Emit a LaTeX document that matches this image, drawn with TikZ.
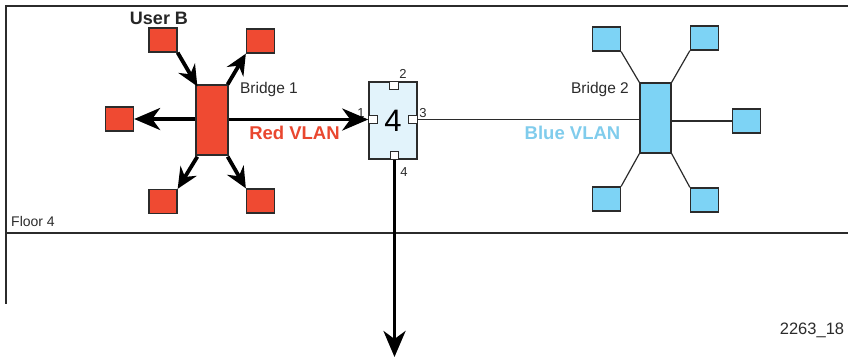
\documentclass[tikz,border=0pt]{standalone}
\usepackage{fontspec}
\setmainfont{Liberation Sans}
\usetikzlibrary{arrows.meta}
\definecolor{redfill}{HTML}{EF4A32}
\definecolor{bluefill}{HTML}{7DD3F5}
\definecolor{swfill}{HTML}{E2F3FB}
\definecolor{redtxt}{HTML}{E9472F}
\definecolor{bluetxt}{HTML}{80CCEC}
\definecolor{edge}{HTML}{2B2B2B}
\tikzset{
  redsq/.style={draw=edge,line width=1.3pt,fill=redfill,minimum width=28pt,minimum height=24pt,inner sep=0pt},
  bluesq/.style={draw=edge,line width=1.3pt,fill=bluefill,minimum width=28pt,minimum height=24pt,inner sep=0pt},
  redbridge/.style={draw=edge,line width=1.3pt,fill=redfill,minimum width=32pt,minimum height=70pt,inner sep=0pt},
  bluebridge/.style={draw=edge,line width=1.3pt,fill=bluefill,minimum width=31pt,minimum height=70pt,inner sep=0pt},
  switchbox/.style={draw=edge,line width=1.3pt,fill=swfill,minimum width=48pt,minimum height=77pt,inner sep=0pt,font=\fontsize{31}{31}\selectfont},
  port/.style={draw=edge,line width=1pt,fill=white,minimum width=8.5pt,minimum height=8pt,inner sep=0pt},
  bigarrow/.style={line width=3.8pt,-{Stealth[length=26pt,width=22pt,inset=8pt]}},
  diagarrow/.style={line width=3.8pt,-{Stealth[length=21pt,width=19pt,inset=7pt]}},
  thinline/.style={draw=edge,line width=1.2pt},
  lbl/.style={inner sep=0pt,font=\fontsize{15.5}{15.5}\selectfont,text=edge},
  boldlbl/.style={inner sep=0pt,font=\fontsize{18.5}{18.5}\selectfont\bfseries},
  portlbl/.style={inner sep=0pt,font=\fontsize{13}{13}\selectfont,text=edge},
  frame/.style={draw=edge,line width=1.5pt}
}
\begin{document}
\begin{tikzpicture}[x=1pt,y=-1pt]
\useasboundingbox (0,0) rectangle (848,359);
% frame
\draw[frame] (848,6) -- (6,6) -- (6,304);
\draw[frame,line width=2pt] (6,233) -- (848,233);
\node[inner sep=0pt,font=\fontsize{14}{14}\selectfont,text=edge,anchor=base west] (floor) at (11,226) {Floor 4};
\node[inner sep=0pt,font=\fontsize{16.5}{16.5}\selectfont,text=edge] (fig) at (812,330) {2263\_18};
% bridge 1 and red stations
\node[redbridge] (b1) at (212,120) {};
\node[redsq] (ub) at (163,40) {};
\node[redsq] (rtr) at (260.5,41) {};
\node[redsq] (rl) at (119.5,119) {};
\node[redsq] (rbl) at (163,201.5) {};
\node[redsq] (rbr) at (260.5,201) {};
\node[boldlbl,font=\fontsize{18}{18}\selectfont\bfseries,text=black!85] (userb) at (159,18) {User B};
\node[lbl] (b1l) at (269,89) {Bridge 1};
\node[boldlbl,text=redtxt] (redv) at (294.5,133) {Red VLAN};
% switch 4
\node[switchbox] (sw) at (393,120.5) {4};
\node[port] (p2) at (394,85.5) {};
\node[port] (p1) at (373,119.5) {};
\node[port] (p3) at (413,119.5) {};
\node[port] (p4) at (394.5,155.5) {};
\node[portlbl] (l1) at (361,113) {1};
\node[portlbl] (l2) at (403,74) {2};
\node[portlbl] (l3) at (423,113) {3};
\node[portlbl] (l4) at (404,172) {4};
% bridge 2 and blue stations
\node[bluebridge] (b2) at (655.5,118) {};
\node[bluesq] (btl) at (606.5,39) {};
\node[bluesq] (btr) at (704.5,38) {};
\node[bluesq] (br) at (746.5,121) {};
\node[bluesq] (bbl) at (606.5,199) {};
\node[bluesq] (bbr) at (704.5,200) {};
\node[lbl] (b2l) at (600,89) {Bridge 2};
\node[boldlbl,text=bluetxt] (bluev) at (572.5,133) {Blue VLAN};
% blue connectors
\draw[thinline] (p3.east) -- (b2.west |- p3.east);
\draw[thinline] (b2.north west) -- (btl.south east);
\draw[thinline] (b2.north east) -- (btr.south west);
\draw[thinline] (b2.east |- br.west) -- (br.west);
\draw[thinline] (b2.south west) -- (bbl.north east);
\draw[thinline] (b2.south east) -- (bbr.north west);
% red arrows
\draw[diagarrow] (ub.south east) -- ([shift={(2,2)}]b1.north west);
\draw[diagarrow] ([shift={(-1,0)}]b1.north east) -- (rtr.south west);
\draw[diagarrow] ([shift={(2,1)}]b1.south west) -- (rbl.north east);
\draw[diagarrow] ([shift={(-1,1)}]b1.south east) -- (rbr.north west);
\draw[bigarrow] (b1.west |- rl.east) -- (rl.east);
\draw[bigarrow] (b1.east |- p1.west) -- (p1.west);
\coordinate (down) at (394.5,357);
\draw[bigarrow] (p4.south) -- (down);
\end{tikzpicture}
\end{document}
